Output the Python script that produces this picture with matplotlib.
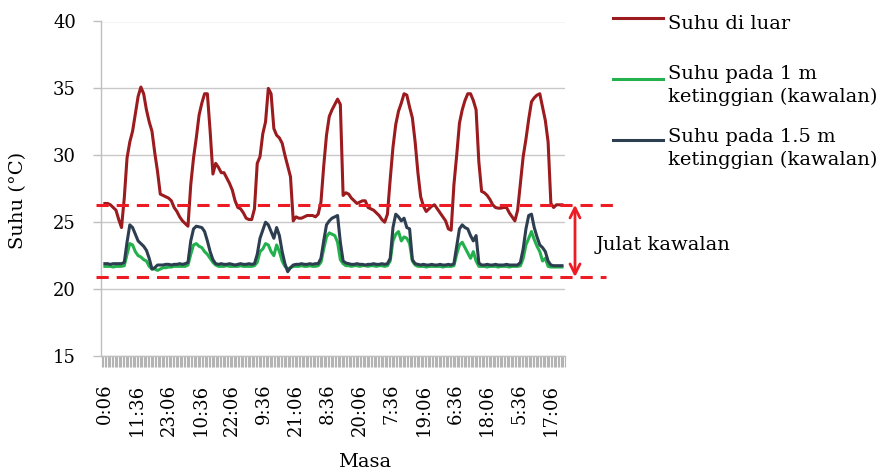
import numpy as np
import matplotlib.pyplot as plt
from matplotlib.lines import Line2D

plt.rcParams['font.family'] = ['DejaVu Serif']

# hourly readings, hour 0 = 0:06 on day 1
hours = np.arange(166)

suhu_luar = [
    26.4, 26.4, 26.3, 26.1, 25.9, 25.2, 24.6, 26.8, 29.8, 31.0, 31.8, 33.1,
    34.4, 35.1, 34.6, 33.4, 32.5, 31.8, 30.2, 28.8, 27.1, 27.0, 26.9, 26.8,
    26.6, 26.1, 25.8, 25.4, 25.1, 24.9, 24.7, 27.8, 29.8, 31.3, 33.0, 33.9,
    34.6, 34.6, 31.8, 28.6, 29.4, 29.1, 28.7, 28.7, 28.3, 27.9, 27.4, 26.6,
    26.1, 26.0, 25.7, 25.3, 25.2, 25.2, 26.0, 29.4, 29.9, 31.6, 32.5, 35.0,
    34.6, 32.0, 31.5, 31.3, 30.9, 30.0, 29.2, 28.4, 25.1, 25.4, 25.3, 25.3,
    25.4, 25.5, 25.5, 25.5, 25.4, 25.6, 26.5, 29.2, 31.5, 32.9, 33.4, 33.8,
    34.2, 33.8, 27.0, 27.2, 27.1, 26.8, 26.6, 26.4, 26.5, 26.6, 26.6, 26.1,
    26.0, 25.9, 25.7, 25.5, 25.2, 25.0, 25.6, 28.2, 30.6, 32.3, 33.3, 33.9,
    34.6, 34.5, 33.6, 32.8, 31.0, 28.7, 26.9, 26.2, 25.8, 26.0, 26.2, 26.3,
    26.0, 25.7, 25.4, 25.1, 24.5, 24.4, 27.8, 30.0, 32.4, 33.4, 34.1, 34.6,
    34.6, 34.1, 33.4, 29.5, 27.3, 27.2, 27.0, 26.7, 26.3, 26.1, 26.05, 26.05,
    26.1, 26.1, 25.7, 25.4, 25.1, 25.9, 27.9, 29.9, 31.2, 32.7, 34.0, 34.3,
    34.5, 34.6, 33.6, 32.6, 31.0, 26.4, 26.1, 26.3, 26.3, 26.3,
]

suhu_1m = [
    21.7, 21.7, 21.7, 21.65, 21.7, 21.7, 21.7, 21.75, 22.6, 23.4, 23.3, 22.8,
    22.5, 22.4, 22.2, 22.1, 21.7, 21.5, 21.5, 21.4, 21.5, 21.6, 21.6, 21.65,
    21.65, 21.7, 21.7, 21.7, 21.7, 21.7, 21.8, 22.6, 23.3, 23.4, 23.2, 23.1,
    22.8, 22.6, 22.3, 22.0, 21.8, 21.7, 21.7, 21.7, 21.75, 21.7, 21.7, 21.7,
    21.7, 21.75, 21.7, 21.7, 21.7, 21.7, 21.75, 22.0, 22.8, 23.0, 23.4, 23.3,
    22.8, 22.5, 23.3, 22.8, 22.1, 21.7, 21.5, 21.6, 21.7, 21.7, 21.7, 21.75,
    21.7, 21.7, 21.75, 21.7, 21.7, 21.75, 22.0, 23.0, 23.9, 24.2, 24.1, 24.0,
    23.5, 22.2, 21.9, 21.75, 21.75, 21.7, 21.75, 21.75, 21.7, 21.75, 21.75, 21.7,
    21.75, 21.75, 21.7, 21.75, 21.75, 21.7, 21.75, 22.1, 23.6, 24.1, 24.3, 23.6,
    23.9, 23.8, 23.4, 22.1, 21.8, 21.7, 21.7, 21.7, 21.65, 21.7, 21.7, 21.7,
    21.7, 21.7, 21.65, 21.7, 21.7, 21.7, 21.75, 22.6, 23.3, 23.5, 23.1, 22.7,
    22.3, 22.8, 22.1, 21.7, 21.7, 21.7, 21.65, 21.7, 21.7, 21.7, 21.65, 21.7,
    21.7, 21.7, 21.65, 21.7, 21.7, 21.7, 21.75, 22.3, 23.3, 23.8, 24.3, 23.7,
    23.2, 22.8, 22.1, 22.3, 21.7, 21.65, 21.65, 21.65, 21.65, 21.65,
]

suhu_15m = [
    21.9, 21.9, 21.85, 21.9, 21.9, 21.9, 21.9, 22.0, 23.5, 24.8, 24.6, 24.1,
    23.6, 23.4, 23.2, 22.9, 22.3, 21.5, 21.6, 21.8, 21.8, 21.8, 21.85, 21.85,
    21.8, 21.85, 21.85, 21.9, 21.85, 21.9, 22.0, 23.6, 24.5, 24.7, 24.65, 24.6,
    24.3, 23.6, 22.8, 22.2, 21.9, 21.85, 21.9, 21.85, 21.85, 21.9, 21.85, 21.8,
    21.85, 21.9, 21.85, 21.85, 21.9, 21.85, 21.9, 22.6, 23.8, 24.4, 25.0, 24.8,
    24.3, 23.8, 24.6, 24.0, 22.8, 21.9, 21.3, 21.6, 21.8, 21.85, 21.85, 21.9,
    21.85, 21.85, 21.9, 21.85, 21.9, 21.9, 22.3, 23.6, 24.8, 25.1, 25.3, 25.4,
    25.5, 23.5, 22.1, 21.95, 21.9, 21.85, 21.85, 21.9, 21.85, 21.85, 21.8, 21.85,
    21.85, 21.9, 21.85, 21.85, 21.9, 21.85, 21.9, 22.3, 24.6, 25.6, 25.4, 25.1,
    25.3, 24.6, 24.5, 22.2, 21.9, 21.85, 21.8, 21.85, 21.8, 21.8, 21.85, 21.8,
    21.8, 21.85, 21.8, 21.8, 21.85, 21.8, 21.9, 23.2, 24.5, 24.8, 24.6, 24.5,
    24.0, 23.6, 24.0, 21.95, 21.8, 21.8, 21.85, 21.8, 21.8, 21.85, 21.8, 21.8,
    21.8, 21.85, 21.8, 21.8, 21.8, 21.8, 22.0, 23.0, 24.5, 25.5, 25.6, 24.6,
    23.9, 23.3, 23.1, 22.8, 22.1, 21.8, 21.75, 21.75, 21.75, 21.75,
]

tick_labels = ["0:06", "11:36", "23:06", "10:36", "22:06", "9:36", "21:06", "8:36",
               "20:06", "7:36", "19:06", "6:36", "18:06", "5:36", "17:06"]
tick_step = 11.5  # hours between labels

julat_atas = 26.3
julat_bawah = 20.9

legend_lines = [["Suhu di luar"],
                ["Suhu pada 1 m", "ketinggian (kawalan)"],
                ["Suhu pada 1.5 m", "ketinggian (kawalan)"]]

c_red = '#9b1b1f'
c_green = '#22b14c'
c_navy = '#2c3e50'
c_dash = '#ed1c24'
c_grid = '#c8c8c8'

W, H = 877, 470
fig = plt.figure(figsize=(W / 100, H / 100), dpi=100)
ax = fig.add_axes([101 / W, 1 - 356 / H, 464 / W, (356 - 21.5) / H])

ax.plot(hours, suhu_1m, color=c_green, lw=2.2, zorder=3)
ax.plot(hours, suhu_15m, color=c_navy, lw=2.2, zorder=4)
ax.plot(hours, suhu_luar, color=c_red, lw=2.2, zorder=5)

ax.set_xlim(-1.4, 166.1)
ax.set_ylim(15, 40)
ax.set_yticks(np.arange(15, 41, 5))
ax.yaxis.grid(True, color=c_grid, lw=1)
ax.set_axisbelow(True)

ax.set_xticks(np.arange(len(tick_labels)) * tick_step)
ax.set_xticklabels(tick_labels, rotation=90, fontsize=13)
ax.set_xticks(np.arange(-1.0, 166.1, 0.5), minor=True)
ax.tick_params(axis='x', which='both', direction='out', length=8, width=0.8,
               color='#b4b4b4', pad=12)
ax.tick_params(axis='y', direction='out', length=6, width=1, color='#bfbfbf',
               pad=12, labelsize=13)

for s in ['top', 'right']:
    ax.spines[s].set_visible(False)
for s in ['left', 'bottom']:
    ax.spines[s].set_color('#bfbfbf')
    ax.spines[s].set_linewidth(1)

# control range lines
x0 = (96 - 101) / 464
ax.axhline(julat_atas, xmin=x0, xmax=(613 - 101) / 464, color=c_dash, lw=2.2,
           dashes=(4, 2.6), clip_on=False, zorder=6)
ax.axhline(julat_bawah, xmin=x0, xmax=(606 - 101) / 464, color=c_dash, lw=2.2,
           dashes=(4, 2.6), clip_on=False, zorder=6)
ax.annotate('', xy=((575 - 101) / 464, julat_bawah), xytext=((575 - 101) / 464, julat_atas),
            xycoords=ax.get_yaxis_transform(), textcoords=ax.get_yaxis_transform(),
            arrowprops=dict(arrowstyle='<->', color=c_dash, lw=2, mutation_scale=18,
                            shrinkA=0, shrinkB=0),
            annotation_clip=False)
fig.text(596 / W, 1 - 250 / H, 'Julat kawalan', fontsize=14, va='baseline')

# legend drawn by hand
handle_y = [18.3, 79, 140]
text_y = [[29.3], [79, 101.7], [141.7, 165]]
for col, hy, lines, ty in zip([c_red, c_green, c_navy], handle_y, legend_lines, text_y):
    fig.add_artist(Line2D([613 / W, 663 / W], [1 - hy / H, 1 - hy / H], color=col, lw=2.2))
    for t, yy in zip(lines, ty):
        fig.text(668 / W, 1 - yy / H, t, fontsize=14, va='baseline')

fig.text(18 / W, 1 - 200 / H, 'Suhu (°C)', fontsize=14, rotation=90, ha='center', va='center')
fig.text(365 / W, 1 - 462 / H, 'Masa', fontsize=14, ha='center', va='center')

fig.savefig('out.png', dpi=100)
